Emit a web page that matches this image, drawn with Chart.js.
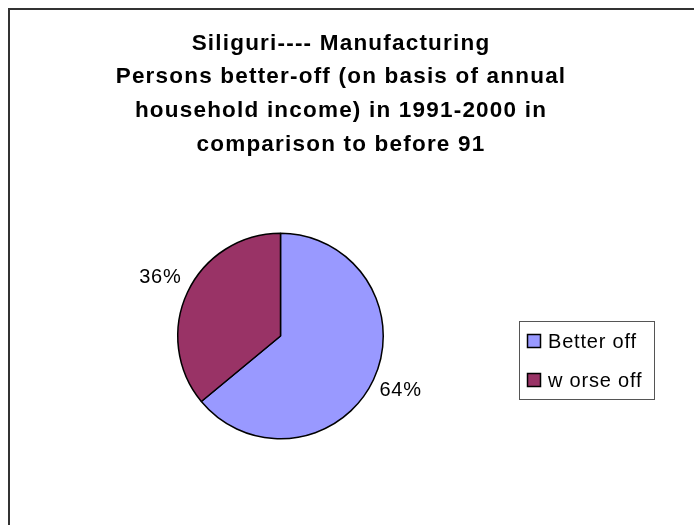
<!DOCTYPE html>
<html>
<head>
<meta charset="utf-8">
<script src="https://cdn.jsdelivr.net/npm/chart.js@4/dist/chart.umd.min.js"></script>
<style>
  html, body { margin: 0; padding: 0; background: #fff; }
  canvas { display: block; }
</style>
</head>
<body>
<canvas id="c" width="694" height="525"></canvas>
<script>
// Chart data
const titleLines = [
  'Siliguri---- Manufacturing',
  'Persons better-off (on basis of annual',
  'household income) in 1991-2000 in',
  'comparison to before 91'
];
const categories = ['Better off', 'w orse off'];
const shares = [64, 36];
const sliceColors = ['#9999FF', '#993366'];

const FONT = '"Liberation Sans", Arial, sans-serif';

// Outer frame, title, legend box and percentage labels
const decor = {
  id: 'decor',
  beforeDraw(chart) {
    const ctx = chart.ctx;
    ctx.save();
    ctx.fillStyle = '#fff';
    ctx.fillRect(0, 0, chart.width, chart.height);
    ctx.strokeStyle = '#333';
    ctx.lineWidth = 2;
    ctx.beginPath();
    ctx.moveTo(9, chart.height);
    ctx.lineTo(9, 9);
    ctx.lineTo(chart.width, 9);
    ctx.stroke();
    ctx.restore();
  },
  afterDraw(chart) {
    const ctx = chart.ctx;
    ctx.save();

    // title
    ctx.fillStyle = '#000';
    ctx.font = 'bold 22.5px ' + FONT;
    ctx.letterSpacing = '1.2px';
    ctx.textAlign = 'center';
    ctx.textBaseline = 'alphabetic';
    titleLines.forEach((t, i) => ctx.fillText(t, 341, 49.6 + i * 33.7));

    // percentage labels outside each slice
    const meta = chart.getDatasetMeta(0);
    const total = shares.reduce((a, b) => a + b, 0);
    ctx.font = '20px ' + FONT;
    ctx.letterSpacing = '0.8px';
    ctx.textBaseline = 'middle';
    meta.data.forEach((arc, i) => {
      const p = arc.getProps(['x', 'y', 'startAngle', 'endAngle', 'outerRadius'], true);
      const mid = (p.startAngle + p.endAngle) / 2;
      const d = p.outerRadius + 30;
      const pct = Math.round(shares[i] / total * 100) + '%';
      ctx.fillText(pct, p.x + Math.cos(mid) * d, p.y + Math.sin(mid) * d - 2);
    });

    // legend
    const lx = 519.5, ly = 321.5, lw = 135, lh = 78;
    ctx.strokeStyle = '#555';
    ctx.lineWidth = 1;
    ctx.strokeRect(lx, ly, lw, lh);
    ctx.textAlign = 'left';
    categories.forEach((c, i) => {
      const y = 334 + i * 39;
      ctx.fillStyle = sliceColors[i];
      ctx.fillRect(527, y, 14, 14);
      ctx.strokeStyle = '#000';
      ctx.lineWidth = 1.5;
      ctx.strokeRect(527.5, y + 0.5, 13, 13);
      ctx.fillStyle = '#000';
      ctx.fillText(c, 548, y + 8);
    });
    ctx.restore();
  }
};

new Chart(document.getElementById('c'), {
  type: 'pie',
  data: {
    labels: categories,
    datasets: [{
      data: shares,
      backgroundColor: sliceColors,
      borderColor: '#000',
      borderWidth: 1.5
    }]
  },
  options: {
    responsive: false,
    animation: false,
    layout: { padding: { left: 177, right: 310, top: 232.5, bottom: 85.5 } },
    plugins: {
      legend: { display: false },
      title: { display: false },
      tooltip: { enabled: false }
    }
  },
  plugins: [decor]
});
</script>
</body>
</html>
